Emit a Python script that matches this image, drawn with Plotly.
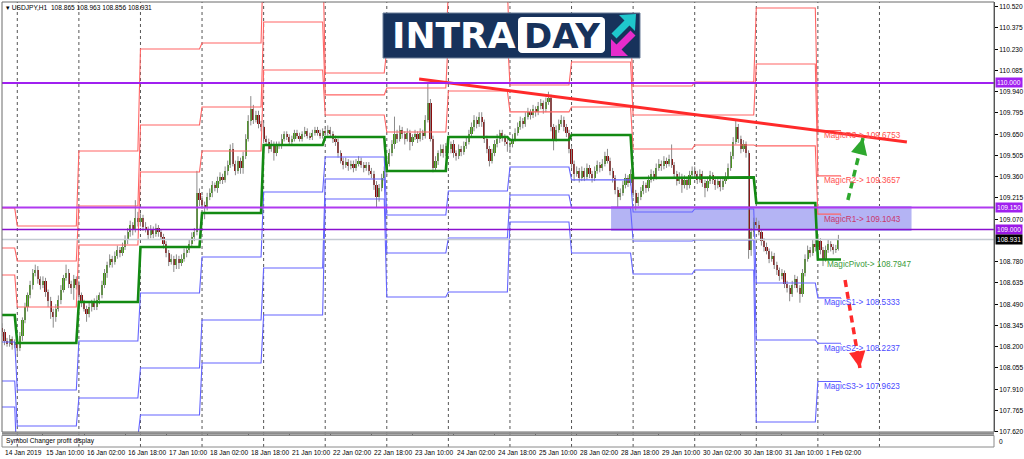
import math
import plotly.graph_objects as go

# ====================== DATA ======================
HEADER_SYMBOL = "USDJPY,H1"
LAST_BAR_OHLC = [108.865, 108.963, 108.856, 108.931]

# H1 bars, bar 0 = 14 Jan 18:00 ; first bar of each trading day
DAY_LABELS = ["14 Jan", "15 Jan", "16 Jan", "17 Jan", "18 Jan", "21 Jan", "22 Jan",
              "23 Jan", "24 Jan", "25 Jan", "28 Jan", "29 Jan", "30 Jan", "31 Jan", "1 Feb"]
DAY_START = [0, 6, 30, 54, 78, 102, 126, 150, 174, 198, 222, 246, 270, 294, 318]
NEXT_DAY_START = 342
LEVEL_END_BAR = 327

# daily "Magic" pivot levels
PIVOT = [108.416, 108.225, 108.505, 108.880, 109.112, 109.576, 109.631, 109.399,
         109.631, 109.610, 109.645, 109.351, 109.355, 109.181, 108.7947]
R1 = [108.689, 108.471, 108.894, 109.392, 109.535, 110.088, 109.781, 109.665,
      109.945, 109.802, 109.836, 109.549, 109.576, 109.570, 109.1043]
R2 = [108.873, 108.785, 109.160, 109.713, 109.836, 110.416, 109.918, 109.965,
      110.320, 109.986, 110.143, 109.781, 109.781, 110.129, 109.3657]
R3 = [109.146, 109.024, 109.535, 110.231, 110.272, 110.928, 110.068, 110.231,
      110.634, 110.177, 110.334, 109.979, 110.006, 110.511, 109.6753]
S1 = [108.232, 107.904, 108.239, 108.566, 108.812, 109.256, 109.494, 109.099,
      109.262, 109.426, 109.338, 109.119, 109.140, 108.635, 108.5333]
S2 = [107.966, 107.659, 107.850, 108.055, 108.382, 108.737, 109.344, 108.839,
      108.942, 109.235, 109.146, 108.921, 108.928, 108.246, 108.2237]
S3 = [107.788, 107.345, 107.584, 107.734, 108.089, 108.416, 109.208, 108.539,
      108.573, 109.051, 108.839, 108.696, 108.723, 107.686, 107.9623]
LEVEL_NAMES = ["MagicR3", "MagicR2", "MagicR1", "MagicPivot", "MagicS1", "MagicS2", "MagicS3"]

# candles: first open, closes, upper / lower wick lengths (pips)
FIRST_OPEN = 108.33
CLOSE = [
    # 14 Jan
    108.30, 108.24, 108.22, 108.25, 108.21, 108.23,
    # 15 Jan
    108.19, 108.27, 108.38, 108.47, 108.55, 108.62, 108.70, 108.72, 108.66, 108.62, 108.65, 108.57,
    108.51, 108.44, 108.40, 108.46, 108.52, 108.59, 108.67, 108.70, 108.63, 108.60, 108.66, 108.62,
    # 16 Jan
    108.55, 108.50, 108.46, 108.42, 108.47, 108.50, 108.47, 108.52, 108.55, 108.62, 108.70, 108.76,
    108.80, 108.78, 108.82, 108.86, 108.84, 108.88, 108.93, 108.98, 109.03, 109.00, 109.08, 109.05,
    # 17 Jan
    109.08, 109.02, 109.00, 108.96, 109.00, 108.97, 109.01, 108.98, 108.95, 108.90, 108.84, 108.78,
    108.80, 108.76, 108.80, 108.77, 108.80, 108.84, 108.86, 108.90, 108.95, 108.98, 109.25, 109.20,
    # 18 Jan
    109.17, 109.15, 109.22, 109.25, 109.30, 109.28, 109.33, 109.36, 109.34, 109.40, 109.44, 109.55,
    109.45, 109.40, 109.47, 109.42, 109.50, 109.62, 109.74, 109.82, 109.75, 109.78, 109.72, 109.70,
    # 21 Jan
    109.62, 109.60, 109.55, 109.58, 109.52, 109.58, 109.57, 109.62, 109.65, 109.63, 109.60, 109.62,
    109.66, 109.64, 109.62, 109.65, 109.67, 109.64, 109.63, 109.66, 109.68, 109.66, 109.64, 109.67,
    # 22 Jan
    109.66, 109.68, 109.65, 109.62, 109.60, 109.52, 109.47, 109.44, 109.46, 109.43, 109.45, 109.42,
    109.45, 109.47, 109.44, 109.42, 109.44, 109.40, 109.38, 109.30, 109.22, 109.28, 109.35, 109.40,
    # 23 Jan
    109.45, 109.52, 109.58, 109.65, 109.62, 109.68, 109.65, 109.62, 109.66, 109.60, 109.63, 109.65,
    109.62, 109.66, 109.64, 109.75, 109.86, 109.62, 109.42, 109.47, 109.52, 109.55, 109.52, 109.57,
    # 24 Jan
    109.55, 109.58, 109.52, 109.50, 109.55, 109.53, 109.57, 109.60, 109.65, 109.70, 109.75, 109.72,
    109.77, 109.73, 109.62, 109.55, 109.47, 109.52, 109.58, 109.62, 109.66, 109.63, 109.60, 109.58,
    # 25 Jan
    109.58, 109.62, 109.66, 109.70, 109.74, 109.72, 109.77, 109.80, 109.78, 109.82, 109.80, 109.84,
    109.86, 109.82, 109.87, 109.90, 109.70, 109.62, 109.68, 109.72, 109.75, 109.70, 109.66, 109.55,
    # 28 Jan
    109.45, 109.38, 109.40, 109.35, 109.40, 109.36, 109.42, 109.38, 109.35, 109.40, 109.44, 109.42,
    109.45, 109.50, 109.47, 109.40, 109.35, 109.27, 109.22, 109.25, 109.30, 109.35, 109.32, 109.38,
    # 29 Jan
    109.25, 109.18, 109.22, 109.26, 109.30, 109.28, 109.34, 109.38, 109.36, 109.42, 109.45, 109.43,
    109.47, 109.45, 109.48, 109.44, 109.38, 109.33, 109.36, 109.30, 109.34, 109.30, 109.37, 109.40,
    # 30 Jan
    109.38, 109.34, 109.38, 109.32, 109.28, 109.33, 109.37, 109.34, 109.30, 109.33, 109.29, 109.33,
    109.36, 109.42, 109.50, 109.60, 109.70, 109.62, 109.55, 109.58, 109.52, 108.86, 108.98, 109.05,
    # 31 Jan
    109.03, 108.98, 108.92, 108.88, 108.85, 108.80, 108.82, 108.76, 108.72, 108.68, 108.70, 108.63,
    108.60, 108.56, 108.62, 108.66, 108.60, 108.56, 108.70, 108.80, 108.86, 108.84, 108.90, 108.88,
    # 1 Feb
    108.92, 108.86, 108.80, 108.86, 108.90, 108.88, 108.86, 108.865, 108.931,
]
UP_WICK = [
    3, 2, 2, 3, 2, 2,
    2, 3, 2, 3, 2, 3, 3, 4, 3, 2, 3, 2, 2, 3, 2, 3, 3, 3, 2, 6, 3, 2, 3, 2,
    3, 2, 2, 2, 3, 2, 3, 3, 2, 3, 3, 2, 3, 2, 3, 3, 2, 3, 3, 3, 3, 2, 12, 4,
    3, 2, 3, 2, 3, 2, 3, 2, 2, 2, 2, 2, 3, 2, 3, 2, 3, 3, 2, 3, 3, 3, 15, 3,
    3, 2, 3, 3, 3, 2, 3, 3, 2, 3, 3, 3, 4, 2, 3, 2, 3, 3, 4, 9, 3, 3, 3, 2,
    3, 2, 2, 3, 2, 2, 2, 3, 2, 2, 2, 2, 2, 2, 2, 2, 3, 2, 2, 2, 2, 2, 2, 2,
    2, 3, 2, 2, 2, 2, 2, 2, 3, 2, 2, 2, 3, 3, 2, 2, 2, 2, 2, 2, 3, 3, 3, 3,
    2, 3, 3, 12, 3, 3, 2, 2, 3, 2, 2, 3, 2, 3, 2, 3, 14, 3, 2, 3, 2, 3, 3, 2,
    3, 2, 3, 2, 3, 2, 3, 3, 3, 3, 3, 2, 3, 3, 2, 2, 2, 3, 3, 3, 2, 2, 2, 2,
    2, 3, 3, 3, 3, 2, 3, 3, 2, 3, 2, 3, 3, 2, 3, 4, 2, 2, 3, 3, 3, 2, 2, 2,
    2, 2, 3, 2, 3, 2, 3, 2, 2, 3, 3, 2, 3, 3, 5, 2, 2, 2, 2, 3, 3, 3, 2, 3,
    2, 2, 3, 3, 3, 2, 3, 3, 2, 3, 3, 2, 3, 2, 3, 10, 2, 2, 3, 2, 3, 2, 3, 3,
    3, 2, 3, 2, 2, 3, 3, 2, 2, 3, 2, 3, 3, 3, 3, 3, 5, 2, 2, 3, 2, 2, 3, 3,
    3, 3, 2, 2, 3, 2, 3, 2, 2, 2, 3, 2, 2, 2, 3, 3, 2, 2, 3, 3, 3, 2, 3, 3,
    3, 2, 2, 3, 3, 2, 2, 3, 3.2,
]
DOWN_WICK = [
    3, 3, 2, 2, 3, 2,
    5, 2, 3, 2, 3, 2, 3, 2, 3, 3, 2, 3, 4, 5, 7, 3, 2, 3, 2, 2, 3, 4, 8, 3,
    3, 3, 2, 5, 2, 3, 2, 2, 3, 2, 2, 3, 2, 4, 2, 2, 3, 2, 2, 3, 3, 4, 2, 3,
    3, 3, 2, 3, 2, 3, 2, 3, 2, 3, 3, 3, 2, 5, 3, 4, 2, 2, 3, 2, 2, 3, 2, 4,
    3, 8, 2, 2, 3, 2, 3, 2, 3, 2, 3, 2, 2, 3, 2, 4, 4, 2, 2, 3, 3, 2, 3, 3,
    3, 2, 3, 2, 5, 2, 2, 2, 2, 2, 3, 2, 2, 2, 2, 2, 2, 2, 2, 2, 2, 2, 2, 2,
    2, 2, 2, 3, 3, 3, 2, 3, 2, 3, 2, 3, 2, 2, 2, 3, 2, 3, 3, 3, 7, 3, 2, 2,
    3, 2, 2, 3, 3, 2, 3, 4, 2, 6, 3, 2, 3, 2, 3, 2, 2, 2, 3, 2, 3, 2, 3, 2,
    2, 3, 3, 3, 2, 3, 2, 2, 2, 2, 3, 3, 2, 3, 3, 3, 4, 2, 2, 2, 3, 3, 3, 5,
    4, 2, 2, 2, 2, 3, 2, 2, 3, 2, 3, 2, 2, 3, 2, 2, 3, 8, 2, 2, 2, 3, 3, 3,
    3, 5, 2, 3, 2, 3, 2, 3, 3, 2, 2, 3, 2, 2, 2, 3, 3, 3, 7, 2, 2, 2, 3, 2,
    3, 5, 2, 2, 2, 3, 2, 2, 3, 2, 2, 3, 2, 3, 2, 2, 3, 3, 2, 5, 2, 3, 2, 2,
    2, 3, 2, 3, 6, 2, 2, 3, 3, 2, 3, 2, 2, 2, 2, 2, 2, 3, 3, 2, 3, 6, 4, 3,
    2, 2, 3, 3, 2, 3, 2, 3, 3, 3, 2, 3, 3, 5, 2, 2, 3, 6, 2, 2, 2, 3, 2, 3,
    2, 3, 5, 2, 2, 3, 3, 2, 0.9,
]

# time-axis labels (every 16 bars)
XLABEL_BARS = [0, 16, 32, 48, 64, 80, 96, 112, 128, 144, 160, 176, 192, 208, 224, 240, 256, 272, 288, 304, 320]
XLABELS = ["14 Jan 2019", "15 Jan 10:00", "16 Jan 02:00", "16 Jan 18:00", "17 Jan 10:00",
           "18 Jan 02:00", "18 Jan 18:00", "21 Jan 10:00", "22 Jan 02:00", "22 Jan 18:00",
           "23 Jan 10:00", "24 Jan 02:00", "24 Jan 18:00", "25 Jan 10:00", "28 Jan 02:00",
           "28 Jan 18:00", "29 Jan 10:00", "30 Jan 02:00", "30 Jan 18:00", "31 Jan 10:00",
           "1 Feb 02:00"]
YTICKS = [110.520, 110.375, 110.230, 110.085, 109.940, 109.795, 109.650, 109.505, 109.360,
          109.215, 109.070, 108.780, 108.635, 108.490, 108.345, 108.200, 108.055, 107.910,
          107.765, 107.620]

HLINES = [110.000, 109.150, 109.000]
CURRENT_PRICE = 108.931
ZONE_BARS = [237.4, 354.5]
ZONE_PRICES = [108.99, 109.16]
TREND_BARS = [162.6, 352.7]
TREND_PRICES = [110.027, 109.597]
UP_ARROW = {"bars": [329.7, 335.6], "prices": [109.201, 109.624]}
DOWN_ARROW = {"bars": [328.6, 334.4], "prices": [108.655, 108.055]}

assert len(CLOSE) == len(UP_WICK) == len(DOWN_WICK) == 327

# ====================== FIGURE ======================
W, H = 1024, 459
ML, MR, MT, MB = 2, 30, 2, 12
PW, PH = W - ML - MR, H - MT - MB
X_RANGE = [0.04, 386.64]
PX_PER_BAR = PW / (X_RANGE[1] - X_RANGE[0])
PX_PER_PRICE = 146.55


def P(px, py):
    return (px - ML) / PW, (H - MB - py) / PH


def bar_to_paper(b):
    return (b - X_RANGE[0]) / (X_RANGE[1] - X_RANGE[0])


MAIN_BOTTOM = P(0, 432)[1]
SUB_TOP = P(0, 436)[1]

bars = list(range(len(CLOSE)))
opens = [FIRST_OPEN] + CLOSE[:-1]
highs = [max(o, c) + u / 100 for o, c, u in zip(opens, CLOSE, UP_WICK)]
lows = [min(o, c) - d / 100 for o, c, d in zip(opens, CLOSE, DOWN_WICK)]

fig = go.Figure()

# wicks
wx, wy = [], []
for b, hi, lo in zip(bars, highs, lows):
    wx += [b, b, None]
    wy += [lo, hi, None]
fig.add_trace(go.Scatter(x=wx, y=wy, mode="lines", line=dict(color="#8a8a8a", width=1),
                         hoverinfo="skip", showlegend=False))
# bodies
body_base = [min(o, c) for o, c in zip(opens, CLOSE)]
body_h = [max(abs(c - o), 0.006) for o, c in zip(opens, CLOSE)]
body_col = ["#3f9410" if c >= o else "#8b0c0c" for o, c in zip(opens, CLOSE)]
fig.add_trace(go.Bar(x=bars, y=body_h, base=body_base, width=0.85,
                     marker=dict(color=body_col, line=dict(width=0)),
                     hoverinfo="skip", showlegend=False))


def level_xy(vals):
    xs, ys = [], []
    for i, v in enumerate(vals):
        s = DAY_START[i] if i > 0 else -2
        e = DAY_START[i + 1] - 1 if i + 1 < len(DAY_START) else LEVEL_END_BAR
        xs += [s, e]
        ys += [v, v]
    return xs, ys


for vals, col, w in [(R1, "#ff6464", 1.1), (R2, "#ff6464", 1.1), (R3, "#ff6464", 1.1),
                     (S1, "#6464ff", 1.1), (S2, "#6464ff", 1.1), (S3, "#6464ff", 1.1),
                     (PIVOT, "#138a13", 2.6)]:
    xs, ys = level_xy(vals)
    fig.add_trace(go.Scatter(x=xs, y=ys, mode="lines", line=dict(color=col, width=w),
                             hoverinfo="skip", showlegend=False))

fig.add_trace(go.Scatter(x=TREND_BARS, y=TREND_PRICES, mode="lines",
                         line=dict(color="#ff2a2a", width=3), hoverinfo="skip", showlegend=False))

shapes = []
shapes.append(dict(type="rect", xref="x", yref="y", x0=ZONE_BARS[0], x1=ZONE_BARS[1],
                   y0=ZONE_PRICES[0], y1=ZONE_PRICES[1], fillcolor="#b4b4f4",
                   line=dict(width=0), layer="below"))
for b in DAY_START[1:] + [NEXT_DAY_START]:
    shapes.append(dict(type="line", xref="x", yref="paper", x0=b, x1=b, y0=0, y1=1,
                       line=dict(color="#555555", width=1, dash="dot"), layer="below"))
for yv, col, w in zip(HLINES, ["#a020f0", "#b03af0", "#8a10d0"], [2, 2, 1.5]):
    shapes.append(dict(type="line", xref="paper", yref="y", x0=0, x1=1, y0=yv, y1=yv,
                       line=dict(color=col, width=w)))
shapes.append(dict(type="line", xref="paper", yref="y", x0=0, x1=1, y0=CURRENT_PRICE,
                   y1=CURRENT_PRICE, line=dict(color="#c4cad2", width=1.5)))
for arr, col in [(UP_ARROW, "#2ea82e"), (DOWN_ARROW, "#ff2a2a")]:
    shapes.append(dict(type="line", xref="x", yref="y", x0=arr["bars"][0], x1=arr["bars"][1],
                       y0=arr["prices"][0], y1=arr["prices"][1],
                       line=dict(color=col, width=3.5, dash="7px,5px")))
shapes.append(dict(type="rect", xref="paper", yref="paper", x0=0, x1=1, y0=MAIN_BOTTOM, y1=1,
                   line=dict(color="#6a6a6a", width=1)))
y433 = P(0, 433.6)[1]
shapes.append(dict(type="line", xref="paper", yref="paper", x0=0, x1=1, y0=y433, y1=y433,
                   line=dict(color="#8c8c8c", width=2.5)))
shapes.append(dict(type="rect", xref="paper", yref="paper", x0=0, x1=1, y0=0, y1=P(0, 435.5)[1],
                   line=dict(color="#8a8a8a", width=1)))


def path_from(points, close=True):
    s = ""
    for i, (px, py) in enumerate(points):
        x, y = P(px, py)
        s += ("M" if i == 0 else "L") + f"{x:.5f},{y:.5f} "
    return s + ("Z" if close else "")


def rounded_rect(x0, y0, x1, y1, r):
    pts = []
    for cx, cy, a0 in [(x1 - r, y0 + r, -90), (x1 - r, y1 - r, 0), (x0 + r, y1 - r, 90), (x0 + r, y0 + r, 180)]:
        for k in range(5):
            a = math.radians(a0 + k * 22.5)
            pts.append((cx + r * math.cos(a), cy + r * math.sin(a)))
    return path_from(pts)


x0, y0 = P(383, 58)
x1, y1 = P(640, 13)
shapes.append(dict(type="rect", xref="paper", yref="paper", x0=x0, x1=x1, y0=y0, y1=y1,
                   fillcolor="#17325b", line=dict(color="#6d7f99", width=1)))
shapes.append(dict(type="path", xref="paper", yref="paper", path=rounded_rect(518, 17, 605, 53, 4),
                   fillcolor="#ffffff", line=dict(width=0)))
cyan = [(636, 14), (619, 15), (624.5, 20.5), (611.5, 33.5), (616.5, 38.5), (629.5, 25.5), (635, 31)]
magenta = [(611, 56), (611, 39), (616.5, 44.5), (630.5, 30.5), (635.5, 35.5), (621.5, 49.5), (628, 56)]
shapes.append(dict(type="path", xref="paper", yref="paper", path=path_from(cyan),
                   fillcolor="#1fc6cc", line=dict(width=0)))
shapes.append(dict(type="path", xref="paper", yref="paper", path=path_from(magenta),
                   fillcolor="#e62ccb", line=dict(width=0)))

annotations = []
AX_FONT = dict(family="Liberation Sans, Arial, sans-serif", size=6.6, color="#000000")

hx, hy = P(4, 7.5)
annotations.append(dict(xref="paper", yref="paper", x=hx, y=hy, xanchor="left", yanchor="middle",
                        text="\u25BE " + HEADER_SYMBOL + "  " + " ".join(f"{v:.3f}" for v in LAST_BAR_OHLC),
                        showarrow=False, font=AX_FONT))
ly = P(0, 452.5)[1]
for b, t in zip(XLABEL_BARS, XLABELS):
    annotations.append(dict(xref="paper", yref="paper", x=max(bar_to_paper(b), 0.0), y=ly,
                            xanchor="left", yanchor="middle",
                            xshift=1, text=t, showarrow=False, font=AX_FONT))
sx, sy = P(4, 441)
annotations.append(dict(xref="paper", yref="paper", x=sx, y=sy, xanchor="left", yanchor="middle",
                        text="Symbol Changer profit display", showarrow=False, font=AX_FONT))
annotations.append(dict(xref="paper", yref="paper", x=1, y=sy, xanchor="left", yanchor="middle",
                        xshift=3, text="0", showarrow=False, font=AX_FONT))
for yv, bg in zip(HLINES + [CURRENT_PRICE], ["#a020f0", "#a020f0", "#9a18e6", "#000000"]):
    annotations.append(dict(xref="paper", yref="y", x=1, y=yv, xanchor="left", yanchor="middle",
                            xshift=1, text=f"{yv:.3f}", showarrow=False, bgcolor=bg, borderpad=1,
                            font=dict(family="Liberation Sans, Arial", size=6.6, color="#ffffff")))
last_levels = [R3[-1], R2[-1], R1[-1], PIVOT[-1], S1[-1], S2[-1], S3[-1]]
label_cols = ["#ff4f4f", "#ff4f4f", "#c8386e", "#3b9b3b", "#4a4aff", "#4a4aff", "#4a4aff"]
for name, v, col in zip(LEVEL_NAMES, last_levels, label_cols):
    xb = 320.8 if name == "MagicPivot" else 319.6
    annotations.append(dict(xref="x", yref="y", x=xb, y=v, xanchor="left", yanchor="middle",
                            yshift=-5, text=f"{name}-> {v:.4f}", showarrow=False,
                            font=dict(family="Liberation Sans, Arial", size=8.2, color=col)))
for arr, col in [(UP_ARROW, "#2ea82e"), (DOWN_ARROW, "#ff2a2a")]:
    dxp = (arr["bars"][1] - arr["bars"][0]) * PX_PER_BAR
    dyp = -(arr["prices"][1] - arr["prices"][0]) * PX_PER_PRICE
    n = (dxp ** 2 + dyp ** 2) ** 0.5
    annotations.append(dict(xref="x", yref="y", x=arr["bars"][1], y=arr["prices"][1],
                            ax=-dxp / n * 9, ay=-dyp / n * 9, axref="pixel", ayref="pixel",
                            text="", showarrow=True, arrowhead=2, arrowsize=1.1,
                            arrowwidth=3, arrowcolor=col))
ix, iy = P(453.5, 36)
annotations.append(dict(xref="paper", yref="paper", x=ix, y=iy, xanchor="center", yanchor="middle",
                        text="<b>INTRA</b>", showarrow=False,
                        font=dict(family="DejaVu Sans", size=36, color="#ffffff")))
dx_, dy_ = P(561.5, 36)
annotations.append(dict(xref="paper", yref="paper", x=dx_, y=dy_, xanchor="center", yanchor="middle",
                        text="<b>DAY</b>", showarrow=False,
                        font=dict(family="DejaVu Sans", size=34, color="#17325b")))

main_range = [110.520 - (432 - 6.7) / PX_PER_PRICE, 110.520 + (6.7 - 2) / PX_PER_PRICE]

fig.update_layout(
    width=W, height=H, margin=dict(l=ML, r=MR, t=MT, b=MB),
    paper_bgcolor="#ffffff", plot_bgcolor="#ffffff", showlegend=False,
    barmode="overlay", bargap=0,
    xaxis=dict(range=X_RANGE, anchor="y2", showgrid=False, zeroline=False, showline=False,
               tickvals=XLABEL_BARS, ticks="outside", ticklen=3, tickcolor="#000000",
               showticklabels=False, fixedrange=True),
    yaxis=dict(domain=[MAIN_BOTTOM, 1], range=main_range, side="right", anchor="x",
               tickvals=YTICKS, ticktext=[f"{v:.3f}" for v in YTICKS], ticks="outside",
               ticklen=3, tickcolor="#000000", tickfont=AX_FONT, showgrid=False, zeroline=False,
               showline=True, linecolor="#404040", linewidth=1),
    yaxis2=dict(domain=[0, SUB_TOP], range=[0, 1], side="right", anchor="x", showgrid=False,
                zeroline=False, showticklabels=False, showline=True, linecolor="#404040"),
    shapes=shapes, annotations=annotations,
)

fig.write_html("out.html", config={"displayModeBar": False},
               post_script="document.body.style.margin='0px';document.body.style.padding='0px';"
                           "document.body.style.overflow='hidden';")
